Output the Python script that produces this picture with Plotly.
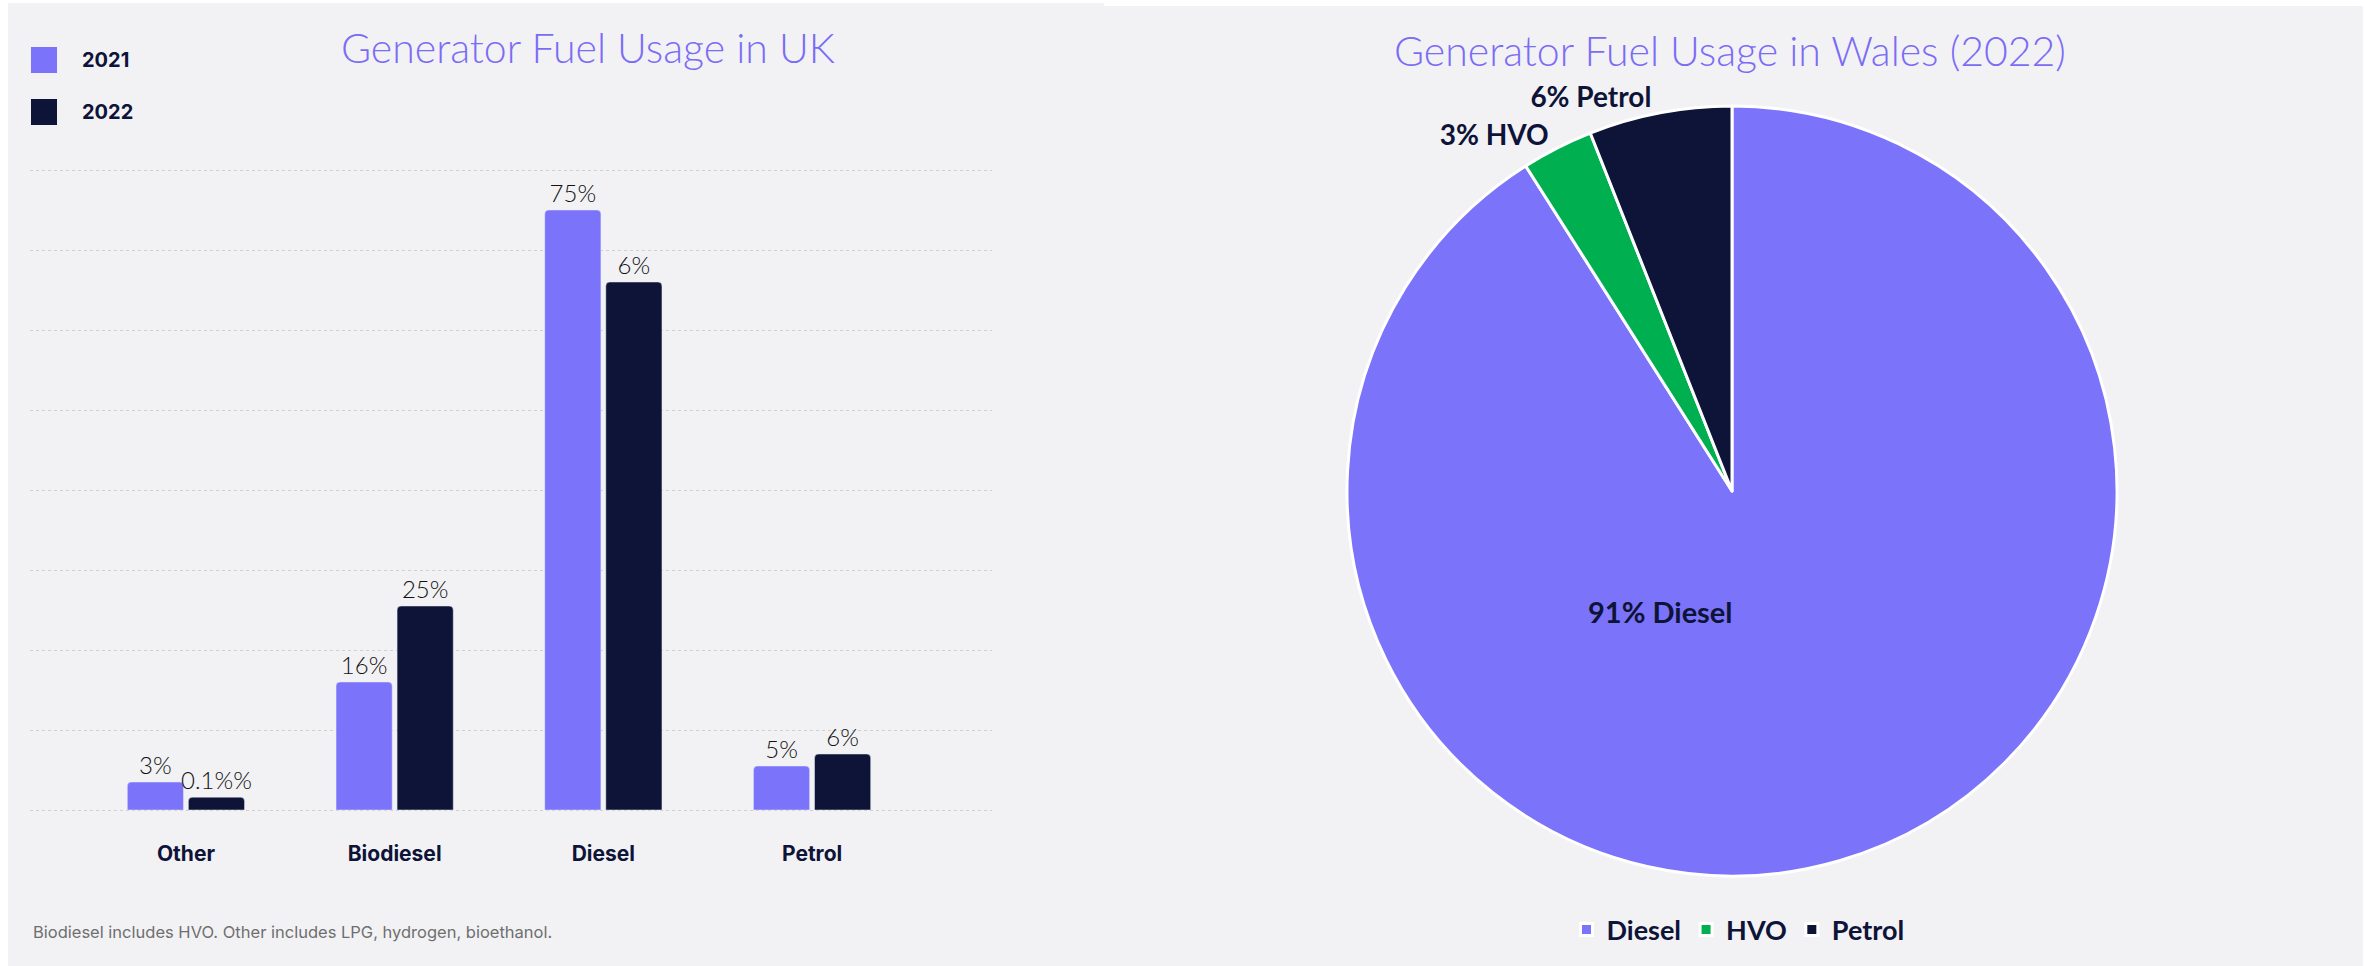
import plotly.graph_objects as go

W, H = 2367, 966

# ---------------- data ----------------
categories = ["Other", "Biodiesel", "Diesel", "Petrol"]
values_2021 = [3.5, 16, 75, 5.5]
values_2022 = [1.6, 25.5, 66, 7]
labels_2021 = ["3%", "16%", "75%", "5%"]
labels_2022 = ["0.1%%", "25%", "6%", "6%"]
series_names = ["2021", "2022"]

pie_labels = ["Diesel", "HVO", "Petrol"]
pie_values = [91, 3, 6]

title_left = "Generator Fuel Usage in UK"
title_right = "Generator Fuel Usage in Wales (2022)"
footnote = "Biodiesel includes HVO. Other includes LPG, hydrogen, bioethanol."

# ---------------- style ----------------
PURPLE = "#7B73FA"
NAVY = "#0E1338"
GREEN = "#00B050"
PANEL = "#F2F2F5"
TITLE_C = "#7B6CF6"


def px(x):
    return x / W


def py(y):
    return 1 - y / H


fig = go.Figure()

for vals, labs, name, col in [(values_2021, labels_2021, series_names[0], PURPLE),
                              (values_2022, labels_2022, series_names[1], NAVY)]:
    fig.add_trace(go.Bar(
        x=categories, y=vals, name=name, text=labs,
        textposition="outside", cliponaxis=False, marker_color=col,
        constraintext="none",
        textfont=dict(family="Lato", size=24, weight=300, color="#111111"),
        showlegend=False, xaxis="x", yaxis="y",
    ))

total = sum(pie_values)
pie_text = ["" if i == 0 else "%d%% %s" % (round(v * 100 / total), l)
            for i, (v, l) in enumerate(zip(pie_values, pie_labels))]

fig.add_trace(go.Pie(
    labels=pie_labels, values=pie_values, sort=False, direction="clockwise",
    marker=dict(colors=[PURPLE, GREEN, NAVY], line=dict(color="white", width=3)),
    text=pie_text, textinfo="text",
    textposition=["inside", "outside", "outside"],
    insidetextorientation="horizontal",
    textfont=dict(family="Lato", size=28, weight=700, color=NAVY),
    outsidetextfont=dict(family="Lato", size=28, weight=700, color=NAVY),
    domain=dict(x=[px(1347), px(2117)], y=[py(876), py(106)]),
    showlegend=True, hoverinfo="label+percent",
))

shapes = [
    dict(type="rect", xref="paper", yref="paper", x0=px(8), x1=px(1104), y0=0, y1=py(3),
         fillcolor=PANEL, line_width=0, layer="below"),
    dict(type="rect", xref="paper", yref="paper", x0=px(1090), x1=px(2363), y0=0, y1=py(6),
         fillcolor=PANEL, line_width=0, layer="below"),
]
# custom legend squares for the bar chart
for i, c in enumerate([PURPLE, NAVY]):
    y0 = 47 + i * 52
    shapes.append(dict(type="rect", xref="paper", yref="paper",
                       x0=px(31), x1=px(57), y0=py(y0 + 26), y1=py(y0),
                       fillcolor=c, line_width=0))

annotations = [
    dict(text=title_left, x=px(588), y=py(48), xref="paper", yref="paper",
         showarrow=False, xanchor="center", yanchor="middle",
         font=dict(family="Lato", size=41, weight=300, color=TITLE_C)),
    dict(text=title_right, x=px(1730), y=py(50), xref="paper", yref="paper",
         showarrow=False, xanchor="center", yanchor="middle",
         font=dict(family="Lato", size=41, weight=300, color=TITLE_C)),
    dict(text=footnote, x=px(31), y=py(932), xref="paper", yref="paper",
         showarrow=False, xanchor="left", yanchor="middle",
         font=dict(family="Inter", size=16.5, color="#6f6f6f")),
    # label of the large pie slice, built from the data
    dict(text="%d%% %s" % (round(pie_values[0] * 100 / total), pie_labels[0]),
         x=px(1660), y=py(611), xref="paper", yref="paper",
         showarrow=False, xanchor="center", yanchor="middle",
         font=dict(family="Lato", size=29, weight=700, color=NAVY)),
]
for i, name in enumerate(series_names):
    annotations.append(dict(text="<b>%s</b>" % name, x=px(80), y=py(60 + i * 52),
                            xref="paper", yref="paper", showarrow=False,
                            xanchor="left", yanchor="middle",
                            font=dict(family="Inter", size=20, color=NAVY)))

fig.update_layout(
    width=W, height=H,
    margin=dict(l=0, r=0, t=0, b=0),
    paper_bgcolor="white", plot_bgcolor="rgba(0,0,0,0)",
    barmode="group", bargap=0.415, bargroupgap=0.08, barcornerradius=4,
    xaxis=dict(domain=[px(30), px(992)], range=[-0.747, 3.862],
               showgrid=False, zeroline=False, showline=False, ticks="",
               ticklabelstandoff=26,
               tickfont=dict(family="Inter", size=21, weight=700, color=NAVY)),
    yaxis=dict(domain=[py(813), py(167)], range=[-0.375, 80.375], dtick=10, tick0=0,
               showgrid=True, gridcolor="#cfcfcf", griddash="dot", gridwidth=1,
               zeroline=False, showline=False, showticklabels=False, ticks=""),
    legend=dict(orientation="h", x=px(1738), xanchor="center", y=py(930),
                yanchor="middle", bgcolor="rgba(0,0,0,0)",
                font=dict(family="Lato", size=27, weight=700, color=NAVY)),
    shapes=shapes,
    annotations=annotations,
)

fig.write_html("out.html", config={"displayModeBar": False},
               post_script="document.body.style.margin='0px';document.body.style.overflow='hidden';")
